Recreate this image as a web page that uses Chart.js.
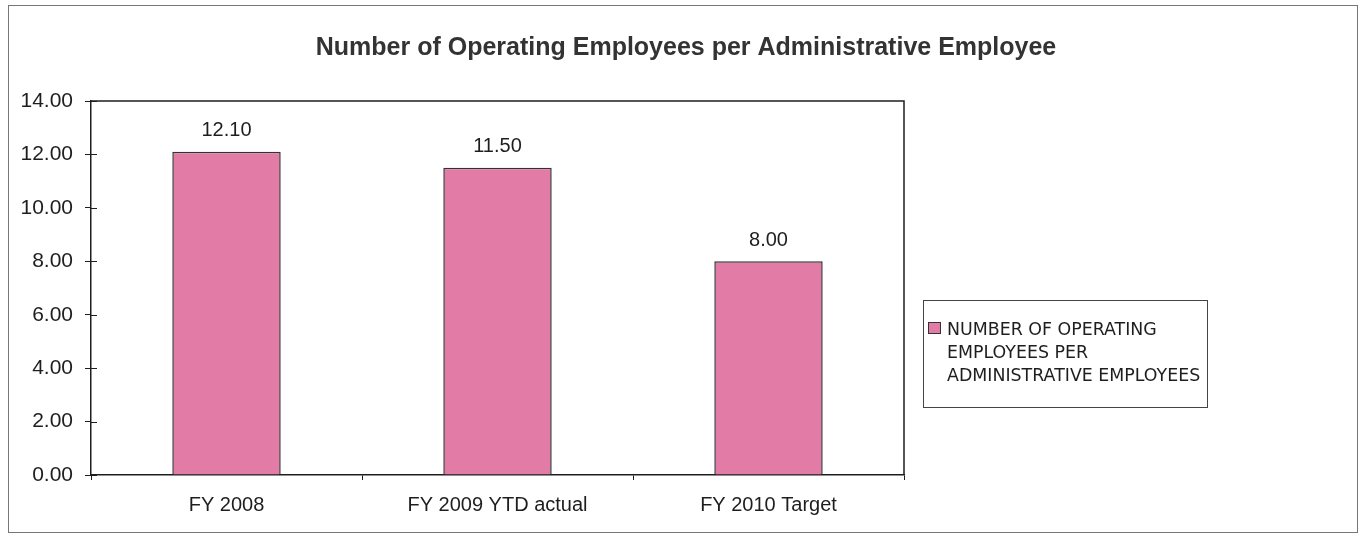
<!DOCTYPE html>
<html lang="en">

<head>
    <meta charset="UTF-8">
    <meta name="viewport" content="width=device-width, initial-scale=1.0">
    <title>Operating Employees per Administrative Employee</title>
    <script src="https://cdn.jsdelivr.net/npm/chart.js@4.4.0/dist/chart.umd.min.js"></script>
    <style>
        html, body { margin: 0; padding: 0; background: #fff; }
        #wrap { position: relative; width: 1366px; height: 539px; }
    </style>
</head>

<body>
    <div id="wrap">
        <canvas id="ratioChart" width="1366" height="539"></canvas>
    </div>
    <script>

        var categories = ["FY 2008", "FY 2009 YTD actual", "FY 2010 Target"];
        var ratios = [12.10, 11.50, 8.00];
        var seriesName = "NUMBER OF OPERATING EMPLOYEES PER ADMINISTRATIVE EMPLOYEES";
        var chartTitle = "Number of Operating Employees per Administrative Employee";

        var barFill = "#e27ca7";
        var inkColor = "#1e1e1e";

        // outer frame, title across the full width, box around the plot area,
        // inner half of the y ticks
        var framePlugin = {
            id: "frame",
            beforeDraw: function (chart) {
                var ctx = chart.ctx;
                ctx.save();
                ctx.fillStyle = "#fff";
                ctx.fillRect(0, 0, chart.width, chart.height);
                ctx.strokeStyle = "#777";
                ctx.lineWidth = 1;
                ctx.strokeRect(8.5, 5.5, 1349, 527);

                ctx.font = "bold 25px 'Liberation Sans', Arial, sans-serif";
                ctx.fillStyle = "#333";
                ctx.textAlign = "center";
                ctx.textBaseline = "middle";
                ctx.fillText(chartTitle, 686, 48);
                ctx.restore();
            },
            afterDraw: function (chart) {
                var ctx = chart.ctx;
                var a = chart.chartArea;
                var y = chart.scales.y;
                ctx.save();
                ctx.strokeStyle = inkColor;
                ctx.lineWidth = 1.5;
                ctx.beginPath();
                ctx.moveTo(a.left, a.top);
                ctx.lineTo(a.right, a.top);
                ctx.lineTo(a.right, a.bottom);
                ctx.stroke();
                ctx.lineWidth = 1;
                y.ticks.forEach(function (t) {
                    var py = Math.round(y.getPixelForValue(t.value)) + 0.5;
                    ctx.beginPath();
                    ctx.moveTo(a.left, py);
                    ctx.lineTo(a.left + 6, py);
                    ctx.stroke();
                });
                ctx.restore();
            }
        };

        // value printed above each bar
        var valueLabels = {
            id: "valueLabels",
            afterDatasetsDraw: function (chart) {
                var ctx = chart.ctx;
                var meta = chart.getDatasetMeta(0);
                ctx.save();
                ctx.font = "20px 'Liberation Sans', Arial, sans-serif";
                ctx.fillStyle = inkColor;
                ctx.textAlign = "center";
                ctx.textBaseline = "middle";
                meta.data.forEach(function (bar, i) {
                    ctx.fillText(ratios[i].toFixed(2), bar.x, bar.y - 21);
                });
                ctx.restore();
            }
        };

        // boxed legend on the right, text wrapped on words
        var boxLegend = {
            id: "boxLegend",
            afterDraw: function (chart) {
                var ctx = chart.ctx;
                var left = chart.chartArea.right + 19;
                var top = 300;
                var boxW = 284, boxH = 107;
                ctx.save();
                ctx.font = "17.4px 'DejaVu Sans', sans-serif";
                var words = seriesName.split(" ");
                var lines = [];
                var line = "";
                words.forEach(function (w) {
                    var test = line ? line + " " + w : w;
                    if (ctx.measureText(test).width > 262 && line) {
                        lines.push(line);
                        line = w;
                    } else {
                        line = test;
                    }
                });
                lines.push(line);

                ctx.strokeStyle = "#444";
                ctx.lineWidth = 1;
                ctx.strokeRect(left + 0.5, top + 0.5, boxW, boxH);

                ctx.fillStyle = barFill;
                ctx.fillRect(left + 5, top + 22, 12, 11);
                ctx.strokeStyle = "#333";
                ctx.strokeRect(left + 5.5, top + 22.5, 12, 11);

                ctx.fillStyle = inkColor;
                ctx.textBaseline = "middle";
                ctx.textAlign = "left";
                lines.forEach(function (l, i) {
                    ctx.fillText(l, left + 24, top + 30 + i * 23);
                });
                ctx.restore();
            }
        };

        new Chart("ratioChart", {
            type: "bar",
            data: {
                labels: categories,
                datasets: [{
                    label: seriesName,
                    data: ratios,
                    backgroundColor: barFill,
                    borderColor: "#333",
                    borderWidth: 1.5,
                    barPercentage: 0.4,
                    categoryPercentage: 1
                }]
            },
            plugins: [framePlugin, valueLabels, boxLegend],
            options: {
                responsive: false,
                animation: false,
                layout: {
                    padding: { left: 0, right: 462, top: 101, bottom: 0 }
                },
                plugins: {
                    legend: { display: false },
                    tooltip: { enabled: false },
                    title: { display: false }
                },
                scales: {
                    x: {
                        grid: {
                            display: true,
                            drawOnChartArea: false,
                            drawTicks: true,
                            tickLength: 5,
                            offset: true,
                            color: inkColor
                        },
                        border: { display: true, color: inkColor, width: 1.5 },
                        ticks: {
                            color: inkColor,
                            padding: 13,
                            font: { family: "'Liberation Sans', Arial, sans-serif", size: 20 }
                        },
                        afterFit: function (scale) { scale.height = 64; }
                    },
                    y: {
                        min: 0,
                        max: 14,
                        grid: {
                            display: true,
                            drawOnChartArea: false,
                            drawTicks: true,
                            tickLength: 6,
                            color: inkColor
                        },
                        border: { display: true, color: inkColor, width: 1.5 },
                        ticks: {
                            stepSize: 2,
                            color: inkColor,
                            padding: 12,
                            font: { family: "'Liberation Sans', Arial, sans-serif", size: 21 },
                            callback: function (v) { return Number(v).toFixed(2); }
                        },
                        afterFit: function (scale) { scale.width = 91; }
                    }
                }
            }
        });

    </script>
</body>

</html>
